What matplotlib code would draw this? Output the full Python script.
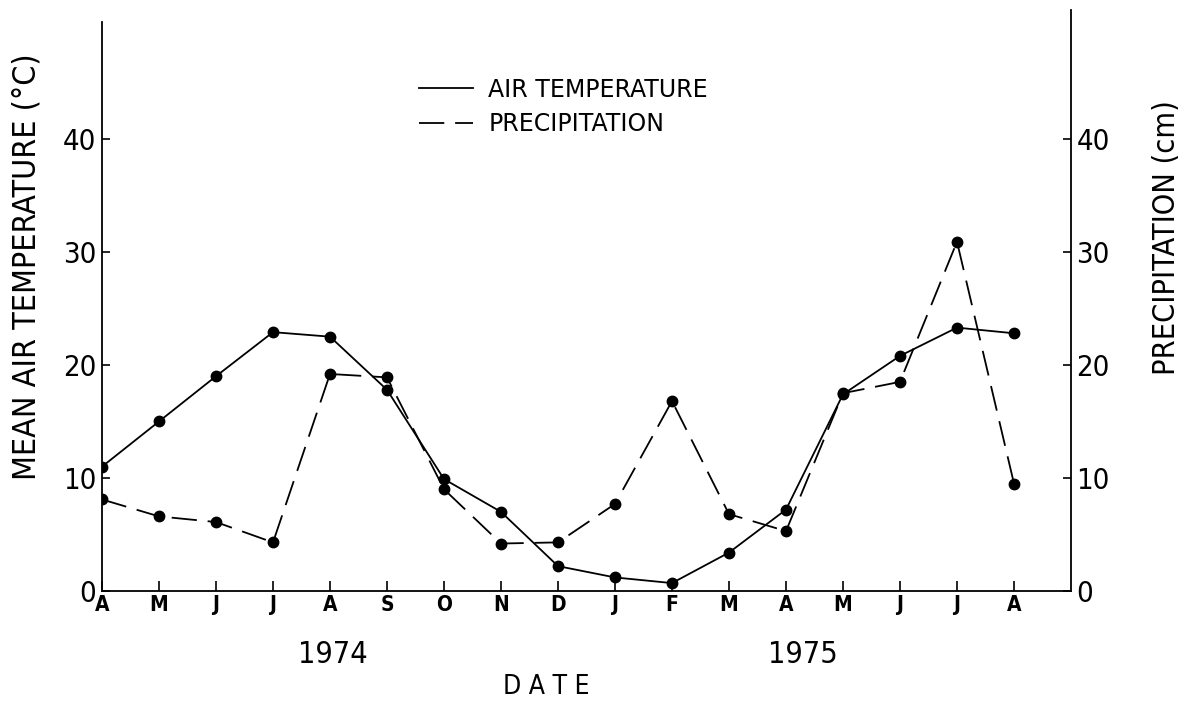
import numpy as np
import matplotlib
matplotlib.use("Agg")
import matplotlib.pyplot as plt

plt.rcParams['font.family'] = ['DejaVu Sans']
plt.rcParams['font.stretch'] = 'condensed'

# Data
months = ["A", "M", "J", "J", "A", "S", "O", "N", "D", "J", "F", "M", "A", "M", "J", "J", "A"]
air_temp = [11.0, 15.0, 19.0, 22.9, 22.5, 17.8, 9.9, 7.0, 2.2, 1.2, 0.7, 3.4, 7.2, 17.4, 20.8, 23.3, 22.8]
precip = [8.1, 6.6, 6.1, 4.3, 19.2, 18.9, 9.0, 4.2, 4.3, 7.7, 16.8, 6.8, 5.3, 17.5, 18.5, 30.9, 9.5]
years = ["1974", "1975"]
yticks = [0, 10, 20, 30, 40]

x = np.arange(len(months))

fig = plt.figure(figsize=(11.92, 7.04), dpi=100)
ax = fig.add_axes([102/1192, 1 - 591/704, (1071 - 102)/1192, (591 - 10)/704])
ax2 = ax.twinx()

ax.plot(x, air_temp, color="black", lw=1.3, marker="o", ms=7.5, label="AIR TEMPERATURE")
ax2.plot(x, precip, color="black", lw=1.3, marker="o", ms=7.5, dashes=(14, 6), label="PRECIPITATION")

for a in (ax, ax2):
    a.set_xlim(0, 17)
    a.set_ylim(0, 51.4)
    a.spines["top"].set_visible(False)
    a.set_yticks(yticks)
    a.tick_params(axis="y", direction="in", length=6, width=1.2, labelsize=21, pad=4)

ax.spines["left"].set_bounds(0, 50.3)
ax2.spines["left"].set_visible(False)
ax2.spines["bottom"].set_visible(False)
for s in ("left", "bottom"):
    ax.spines[s].set_linewidth(1.3)
ax2.spines["right"].set_linewidth(1.3)
ax.spines["right"].set_visible(False)

ax.set_xticks(x)
ax.set_xticklabels(months, fontsize=15, fontweight="bold")
ax.tick_params(axis="x", direction="in", length=7, width=1.2, pad=3)

ax.set_ylabel("MEAN AIR TEMPERATURE (°C)", fontsize=23)
ax.yaxis.set_label_coords(-0.061, 0.558)
ax2.set_ylabel("PRECIPITATION (cm)", fontsize=22)
ax2.yaxis.set_label_coords(1.084, 0.609)

# Year labels and x-axis title
ax.text(4.05, -0.11, years[0], transform=ax.get_xaxis_transform(), ha="center", va="center", fontsize=22)
ax.text(12.3, -0.11, years[1], transform=ax.get_xaxis_transform(), ha="center", va="center", fontsize=22)
ax.text(7.8, -0.165, "D A T E", transform=ax.get_xaxis_transform(), ha="center", va="center", fontsize=19)

h1, l1 = ax.get_legend_handles_labels()
h2, l2 = ax2.get_legend_handles_labels()
leg = ax.legend(h1 + h2, l1 + l2, loc="upper left", bbox_to_anchor=(0.305, 0.92), frameon=False,
                prop={"size": 17, "stretch": "normal"}, handlelength=2.3, labelspacing=0.45,
                handletextpad=0.65)
for lh in leg.get_lines():
    lh.set_marker("")

fig.savefig("out.png", dpi=100)
